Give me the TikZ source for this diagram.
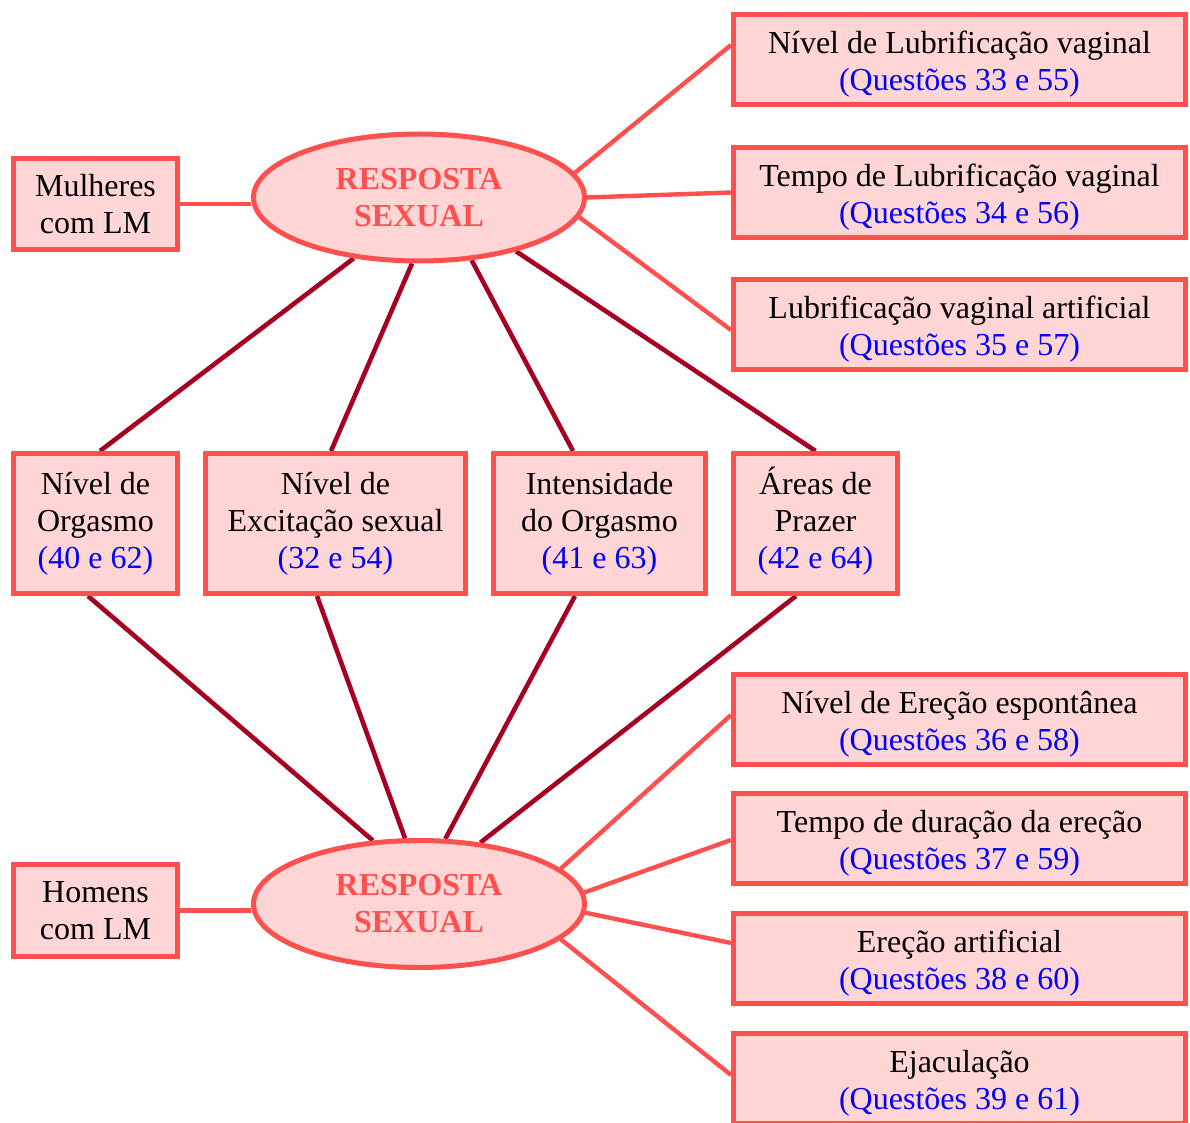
\documentclass[tikz,border=0pt]{standalone}
\usepackage{fontspec}
\setmainfont{Liberation Serif}
\usetikzlibrary{shapes.geometric,backgrounds}
\definecolor{edgered}{RGB}{255,80,80}
\definecolor{boxfill}{RGB}{255,213,213}
\definecolor{darklink}{RGB}{165,0,33}
\definecolor{qblue}{RGB}{0,0,255}
\newcommand{\qref}[1]{\textcolor{qblue}{#1}}
% fixed height for the first line of a box, so accents do not move the text
\newcommand{\qline}[1]{\raisebox{0pt}[16pt]{#1}}
\newcommand{\mline}[1]{\raisebox{0pt}[11pt]{#1}}

\begin{document}
\begin{tikzpicture}[x=0.5pt,y=-0.5pt,
  every node/.style={font=\fontsize{16}{18.5}\selectfont},
  box/.style={draw=edgered, fill=boxfill, line width=2.5pt, rectangle,
    align=center, inner sep=0pt},
  sidebox/.style={box, minimum width=82pt, minimum height=45.5pt},
  qbox/.style={box, minimum width=226pt, minimum height=45pt},
  midbox/.style={box, minimum height=70pt},
  hub/.style={draw=edgered, fill=boxfill, line width=2.5pt, ellipse,
    inner sep=0pt, minimum width=165.5pt, minimum height=63.5pt,
    align=center, text=edgered, font=\fontsize{16}{18.5}\selectfont\bfseries},
  light/.style={draw=edgered, line width=2.2pt},
  dark/.style={draw=darklink, line width=2.3pt}]

\useasboundingbox (0,0) rectangle (1190,1123);

% women: hub and its branches
\node[sidebox] (mulheres) at (95.5,204) {Mulheres\\com LM};
\node[hub] (topHub) at (419,197.5) {RESPOSTA\\SEXUAL};
\node[qbox] (lubA) at (959.5,59.5) {\qline{Nível de Lubrificação vaginal}\\\qref{(Questões 33 e 55)}};
\node[qbox] (lubB) at (959.5,192.5) {\qline{Tempo de Lubrificação vaginal}\\\qref{(Questões 34 e 56)}};
\node[qbox] (lubC) at (959.5,324.5) {\qline{Lubrificação vaginal artificial}\\\qref{(Questões 35 e 57)}};

% shared items
\node[midbox, minimum width=82pt] (orgNivel) at (95.5,523.5) {\mline{Nível de}\\Orgasmo\\\qref{(40 e 62)}};
\node[midbox, minimum width=130pt] (excit) at (335.5,523.5) {\mline{Nível de}\\Excitação sexual\\\qref{(32 e 54)}};
\node[midbox, minimum width=106pt] (orgInt) at (599.5,523.5) {\mline{Intensidade}\\do Orgasmo\\\qref{(41 e 63)}};
\node[midbox, minimum width=82pt] (prazer) at (815.5,523.5) {\mline{Áreas de}\\Prazer\\\qref{(42 e 64)}};

% men: hub and its branches
\node[sidebox, minimum height=46pt] (homens) at (95.5,910.5) {Homens\\com LM};
\node[hub] (botHub) at (419,904) {RESPOSTA\\SEXUAL};
\node[qbox] (erA) at (959.5,719.5) {\qline{Nível de Ereção espontânea}\\\qref{(Questões 36 e 58)}};
\node[qbox] (erB) at (959.5,838.5) {\qline{Tempo de duração da ereção}\\\qref{(Questões 37 e 59)}};
\node[qbox] (erC) at (959.5,958.5) {\qline{Ereção artificial}\\\qref{(Questões 38 e 60)}};
\node[qbox] (erD) at (959.5,1078.5) {\qline{Ejaculação}\\\qref{(Questões 39 e 61)}};

\begin{pgfonlayer}{background}
  % women side
  \draw[light] (mulheres.east) -- (topHub.west |- mulheres.east);
  \draw[light] (topHub.9) -- ([yshift=7.25pt]lubA.west);
  \draw[light] (topHub.0) -- (lubB.west);
  \draw[light] (topHub.-7.4) -- ([yshift=-2.75pt]lubC.west);
  \draw[dark] (topHub.-137.2) -- ([xshift=2.25pt]orgNivel.north);
  \draw[dark] (topHub.-96) -- ([xshift=-2.25pt]excit.north);
  \draw[dark] (topHub.-50.9) -- ([xshift=-13.25pt]orgInt.north);
  \draw[dark] (topHub.-29.8) -- (prazer.north);
  % men side
  \draw[light] (homens.east) -- (botHub.west |- homens.east);
  \draw[light] (botHub.14.5) -- ([yshift=2.25pt]erA.west);
  \draw[light] (botHub.4.8) -- ([yshift=-0.75pt]erB.west);
  \draw[light] (botHub.-3.7) -- ([yshift=7.75pt]erC.west);
  \draw[light] (botHub.-14.1) -- ([yshift=1.75pt]erD.west);
  \draw[dark] ([xshift=-3.75pt]orgNivel.south) -- (botHub.126.9);
  \draw[dark] ([xshift=-9.25pt]excit.south) -- (botHub.102.8);
  \draw[dark] ([xshift=-12.25pt]orgInt.south) -- (botHub.68.5);
  \draw[dark] ([xshift=-9.75pt]prazer.south) -- (botHub.45.5);
\end{pgfonlayer}
\end{tikzpicture}
\end{document}
